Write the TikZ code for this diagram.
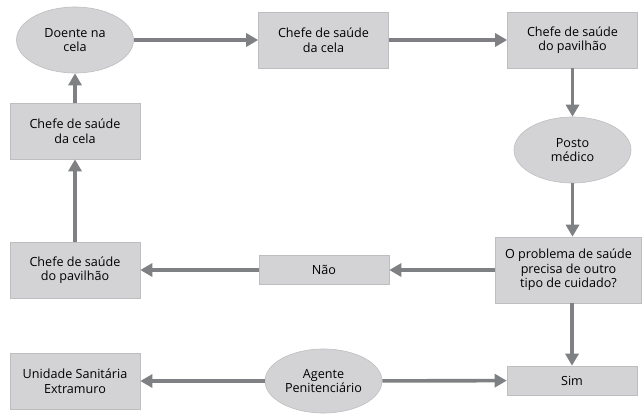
\documentclass[tikz,border=0pt]{standalone}
\usepackage{fontspec}
\setmainfont{Open Sans}
\usetikzlibrary{arrows.meta,shapes.geometric}
\definecolor{boxfill}{HTML}{D3D3D5}
\definecolor{boxline}{HTML}{BEBEC0}
\definecolor{arrowgray}{HTML}{7F8083}
\begin{document}
\begin{tikzpicture}[x=1pt, y=-1pt,
    every node/.style={font=\fontsize{12.6}{14.6}\selectfont, align=center, text=black},
    box/.style={draw=boxline, fill=boxfill, line width=0.6pt, minimum width=130pt, minimum height=56pt, inner sep=2pt},
    oval/.style={ellipse, draw=boxline, fill=boxfill, line width=0.6pt, minimum width=117pt, minimum height=66pt, inner sep=0pt},
    flow/.style={draw=arrowgray, line width=3.6pt, -{Triangle[length=12pt,width=13pt]}}]
      \useasboundingbox (0,0) rectangle (642,413);
      \node[oval] (doente) at (75, 40) {Doente na\\cela};
      \node[box] (cela) at (323.5, 40) {Chefe de saúde\\da cela};
      \node[box] (pav) at (572.5, 40) {Chefe de saúde\\do pavilhão};
      \node[oval] (posto) at (572.5, 150) {Posto\\médico};
      \node[box, minimum width=146pt, minimum height=66pt] (problema) at (568.5, 270) {O problema de saúde\\precisa de outro\\tipo de cuidado?};
      \node[box, minimum height=29pt] (sim) at (572, 380.5) {Sim};
      \node[box, minimum height=29pt] (nao) at (324, 270) {Não};
      \node[box] (paveq) at (75, 270) {Chefe de saúde\\do pavilhão};
      \node[box] (celaeq) at (75, 131) {Chefe de saúde\\da cela};
      \node[box] (unidade) at (75, 381) {Unidade Sanitária\\Extramuro};
      \node[oval, minimum height=64pt] (agente) at (323.5, 381) {Agente\\Penitenciário};
      \draw[flow] (doente) -- (cela);
      \draw[flow] (cela) -- (pav);
      \draw[flow] (pav) -- (posto);
      \draw[flow] (posto.south) -- (posto.south |- problema.north);
      \draw[flow] (problema.south -| sim) -- (sim);
      \draw[flow] (problema) -- (nao);
      \draw[flow] (nao) -- (paveq);
      \draw[flow] (paveq) -- (celaeq);
      \draw[flow] (celaeq) -- (doente);
      \draw[flow] (agente) -- (sim);
      \draw[flow] (agente) -- (unidade);
    \end{tikzpicture}
\end{document}
